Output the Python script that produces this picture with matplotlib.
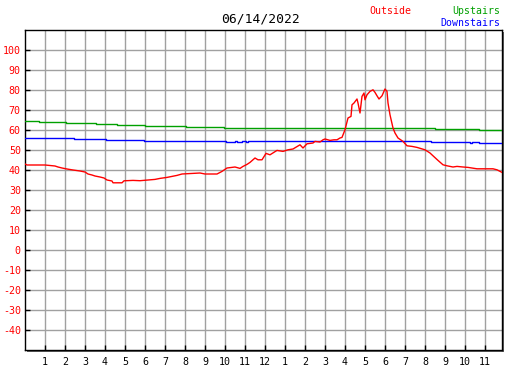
#!/usr/bin/env python3

import matplotlib
matplotlib.use('Agg')
import matplotlib.pyplot as plt
from matplotlib.patches import Rectangle

# Daily temperature chart, one day, three sensors.

DATE_LABEL = '06/14/2022'

# outside temperature (hour of day, degrees)
outside_hours = [
    0.0, 0.1, 1.0, 1.5, 1.65, 1.85, 2.1, 2.4, 2.75, 3.0, 3.15, 3.35, 3.5,
    3.75, 3.95, 4.1, 4.35, 4.4, 4.85, 4.95, 5.4, 5.75, 6.5, 6.75, 7.1, 7.35,
    7.6, 7.85, 8.75, 9.0, 9.6, 9.85, 10.1, 10.5, 10.75, 10.9, 11.1, 11.25,
    11.5, 11.65, 11.85, 12.05, 12.25, 12.6, 12.9, 13.15, 13.4, 13.75, 13.9,
    14.1, 14.4, 14.5, 14.75, 14.9, 15.0, 15.25, 15.45, 15.6, 15.75, 15.85,
    16.0, 16.15, 16.3, 16.35, 16.45, 16.6, 16.65, 16.75, 16.85, 16.95, 17.0,
    17.1, 17.25, 17.4, 17.5, 17.6, 17.7, 17.85, 18.0, 18.1, 18.15, 18.25,
    18.4, 18.5, 18.65, 18.9, 19.1, 19.35, 19.6, 20.0, 20.25, 20.4, 20.65,
    20.9, 21.1, 21.4, 21.6, 21.9, 22.15, 22.6, 23.4, 23.6, 23.85, 23.9,
]
outside_temps = [
    43.2, 42.7, 42.7, 42.2, 41.7, 41.2, 40.7, 40.2, 39.7, 39.2, 38.2, 37.7, 37.2,
    36.7, 36.2, 35.2, 34.7, 33.8, 33.8, 34.8, 35.0, 34.85, 35.5, 36.0, 36.5, 37.0,
    37.5, 38.2, 38.7, 38.2, 38.2, 39.5, 41.2, 41.7, 41.0, 42.0, 43.0, 44.0,
    46.2, 45.3, 45.3, 48.5, 47.8, 50.0, 49.5, 50.3, 50.7, 52.8, 51.2,
    53.3, 53.7, 54.5, 54.2, 55.3, 55.7, 55.0, 55.3, 55.3, 56.2, 56.5,
    60.3, 66.2, 67.0, 72.8, 73.7, 75.7, 73.7, 68.7, 77.0, 78.7, 75.3,
    77.8, 79.5, 80.3, 79.0, 77.3, 75.7, 77.3, 80.7, 79.5, 73.7, 67.8,
    61.2, 58.7, 56.2, 54.5, 52.3, 52.0, 51.5, 50.3, 48.7, 47.3, 45.0,
    42.8, 42.3, 41.7, 42.0, 41.7, 41.5, 40.8, 40.8, 40.3, 39.0, 38.7,
]

# upstairs thermostat, changes in 0.5 degree steps
upstairs_hours = [0.0, 0.7, 2.05, 3.55, 4.6, 6.0, 8.05, 9.95, 20.5, 22.7, 23.85]
upstairs_temps = [64.8, 64.3, 63.8, 63.3, 62.8, 62.3, 61.8, 61.3, 60.8, 60.3, 60.3]

downstairs_hours = [0.0, 2.45, 4.05, 5.95, 10.05, 10.5, 10.6, 10.85, 11.05, 11.15,
                    20.3, 22.25, 22.35, 22.7, 23.85]
downstairs_temps = [56.2, 55.7, 55.2, 54.8, 54.3, 54.8, 54.3, 54.8, 54.3, 54.8,
                    54.3, 53.8, 54.3, 53.8, 53.8]

hour_ticks = list(range(1, 24))
hour_labels = [str(h if h <= 12 else h - 12) for h in hour_ticks]
temp_ticks = list(range(-40, 101, 10))

W, H = 527, 370
RED = '#ff0000'
GREEN = '#00a000'
BLUE = '#0000ff'
GRID = '#a0a0a0'
FONT = 'DejaVu Sans Mono'

fig = plt.figure(figsize=(W / 100, H / 100), dpi=100)

# plot box in pixels
x0, x1, y0, y1 = 25, 502, 30, 350
left, bottom = x0 / W, (H - y1) / H
width, height = (x1 - x0) / W, (y1 - y0) / H

# drop shadow on right/bottom edges, behind the axes
fig.patches.append(Rectangle((left + 2 / W, bottom - 2 / H), width, height,
                             transform=fig.transFigure, facecolor='#606060',
                             edgecolor='none', zorder=-5))

ax = fig.add_axes([left, bottom, width, height])
ax.set_zorder(1)
ax.set_facecolor('white')

ax.set_xlim(0, 23.85)
ax.set_ylim(-49.8, 110.2)

ax.set_xticks(hour_ticks)
ax.set_xticklabels(hour_labels, fontfamily=FONT, fontsize=7.2)
ax.set_yticks(temp_ticks)
ax.set_yticklabels([str(t) for t in temp_ticks], fontfamily=FONT, fontsize=7.2)

ax.grid(True, color=GRID, linewidth=1.0, zorder=1)
ax.set_axisbelow(True)

ax.tick_params(axis='both', direction='in', length=3.3, width=1.0, color='black')
ax.tick_params(axis='y', labelcolor=RED, pad=3)
ax.tick_params(axis='x', labelcolor='black', pad=5)
for s in ax.spines.values():
    s.set_linewidth(1.0)
    s.set_color('black')

ax.plot(upstairs_hours, upstairs_temps, color=GREEN, linewidth=1.0,
        drawstyle='steps-post', zorder=3)
ax.plot(downstairs_hours, downstairs_temps, color=BLUE, linewidth=1.0,
        drawstyle='steps-post', zorder=3)
ax.plot(outside_hours, outside_temps, color=RED, linewidth=1.0, zorder=4)

# title and legend text, placed in pixels
def px_text(x, y, s, **kw):
    fig.text(x / W, 1 - y / H, s, fontfamily=FONT, va='center', **kw)

px_text(261, 19, DATE_LABEL, ha='center', fontsize=9.4, color='black')
px_text(369, 11, 'Outside', ha='left', fontsize=7.1, color=RED)
px_text(500, 11, 'Upstairs', ha='right', fontsize=7.1, color=GREEN)
px_text(500, 23, 'Downstairs', ha='right', fontsize=7.1, color=BLUE)

plt.savefig('out.png', dpi=100)
